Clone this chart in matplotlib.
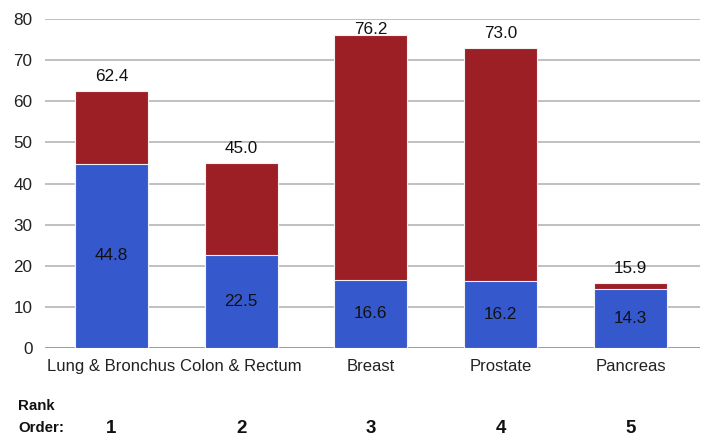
import matplotlib
matplotlib.use("Agg")
import matplotlib.pyplot as plt

categories = ["Lung & Bronchus", "Colon & Rectum", "Breast", "Prostate", "Pancreas"]
lower_values = [44.8, 22.5, 16.6, 16.2, 14.3]
total_values = [62.4, 45.0, 76.2, 73.0, 15.9]
rank_order = ["1", "2", "3", "4", "5"]
y_ticks = [0, 10, 20, 30, 40, 50, 60, 70, 80]

plt.rcParams['font.family'] = ['Liberation Sans', 'DejaVu Sans']

fig = plt.figure(figsize=(7.05, 4.37), dpi=100)
ax = fig.add_axes([45/705, 1-348/437, 655/705, 329/437])

x = list(range(len(categories)))
w = 0.563
ax.bar(x, total_values, width=w, color="#9B1F24", edgecolor="#f2f2f2", linewidth=0.8, zorder=2)
ax.bar(x, lower_values, width=w, color="#3558CC", edgecolor="#f2f2f2", linewidth=0.8, zorder=3)

for xi, lo, tot in zip(x, lower_values, total_values):
    ax.text(xi, lo / 2, f"{lo:.1f}", ha="center", va="center", fontsize=12.3, color="#111111", zorder=4)
    ytxt = min(tot + 3.5, 77.5)
    ax.text(xi, ytxt, f"{tot:.1f}", ha="center", va="center", fontsize=12.3, color="#111111", zorder=4)

ax.set_xlim(-0.5125, 4.536)
ax.set_ylim(0, 80)
ax.set_yticks(y_ticks)
ax.set_yticklabels([str(t) for t in y_ticks], fontsize=12.3, color="#222222")
ax.set_xticks(x)
ax.set_xticklabels(categories, fontsize=12, color="#222222")
ax.tick_params(axis="both", length=0)
ax.tick_params(axis="y", pad=9)
ax.tick_params(axis="x", pad=8)
ax.yaxis.grid(True, color="#b5b5b5", linewidth=1.2, zorder=0)
ax.set_axisbelow(True)
for s in ax.spines.values():
    s.set_visible(False)
ax.axhline(0, color="#999999", linewidth=1.2, zorder=1)

fig.text(18/705, 1-406/437, "Rank", fontsize=10.8, fontweight="bold", ha="left", va="center", color="#111111")
fig.text(18/705, 1-428/437, "Order:", fontsize=10.8, fontweight="bold", ha="left", va="center", color="#111111")
for xi, r in zip(x, rank_order):
    xd = ax.transData.transform((xi, 0))[0]
    fig.text(xd / 705, 1-428.5/437, r, fontsize=13.5, fontweight="bold", ha="center", va="center", color="#111111")

fig.savefig("out.png", dpi=100)
